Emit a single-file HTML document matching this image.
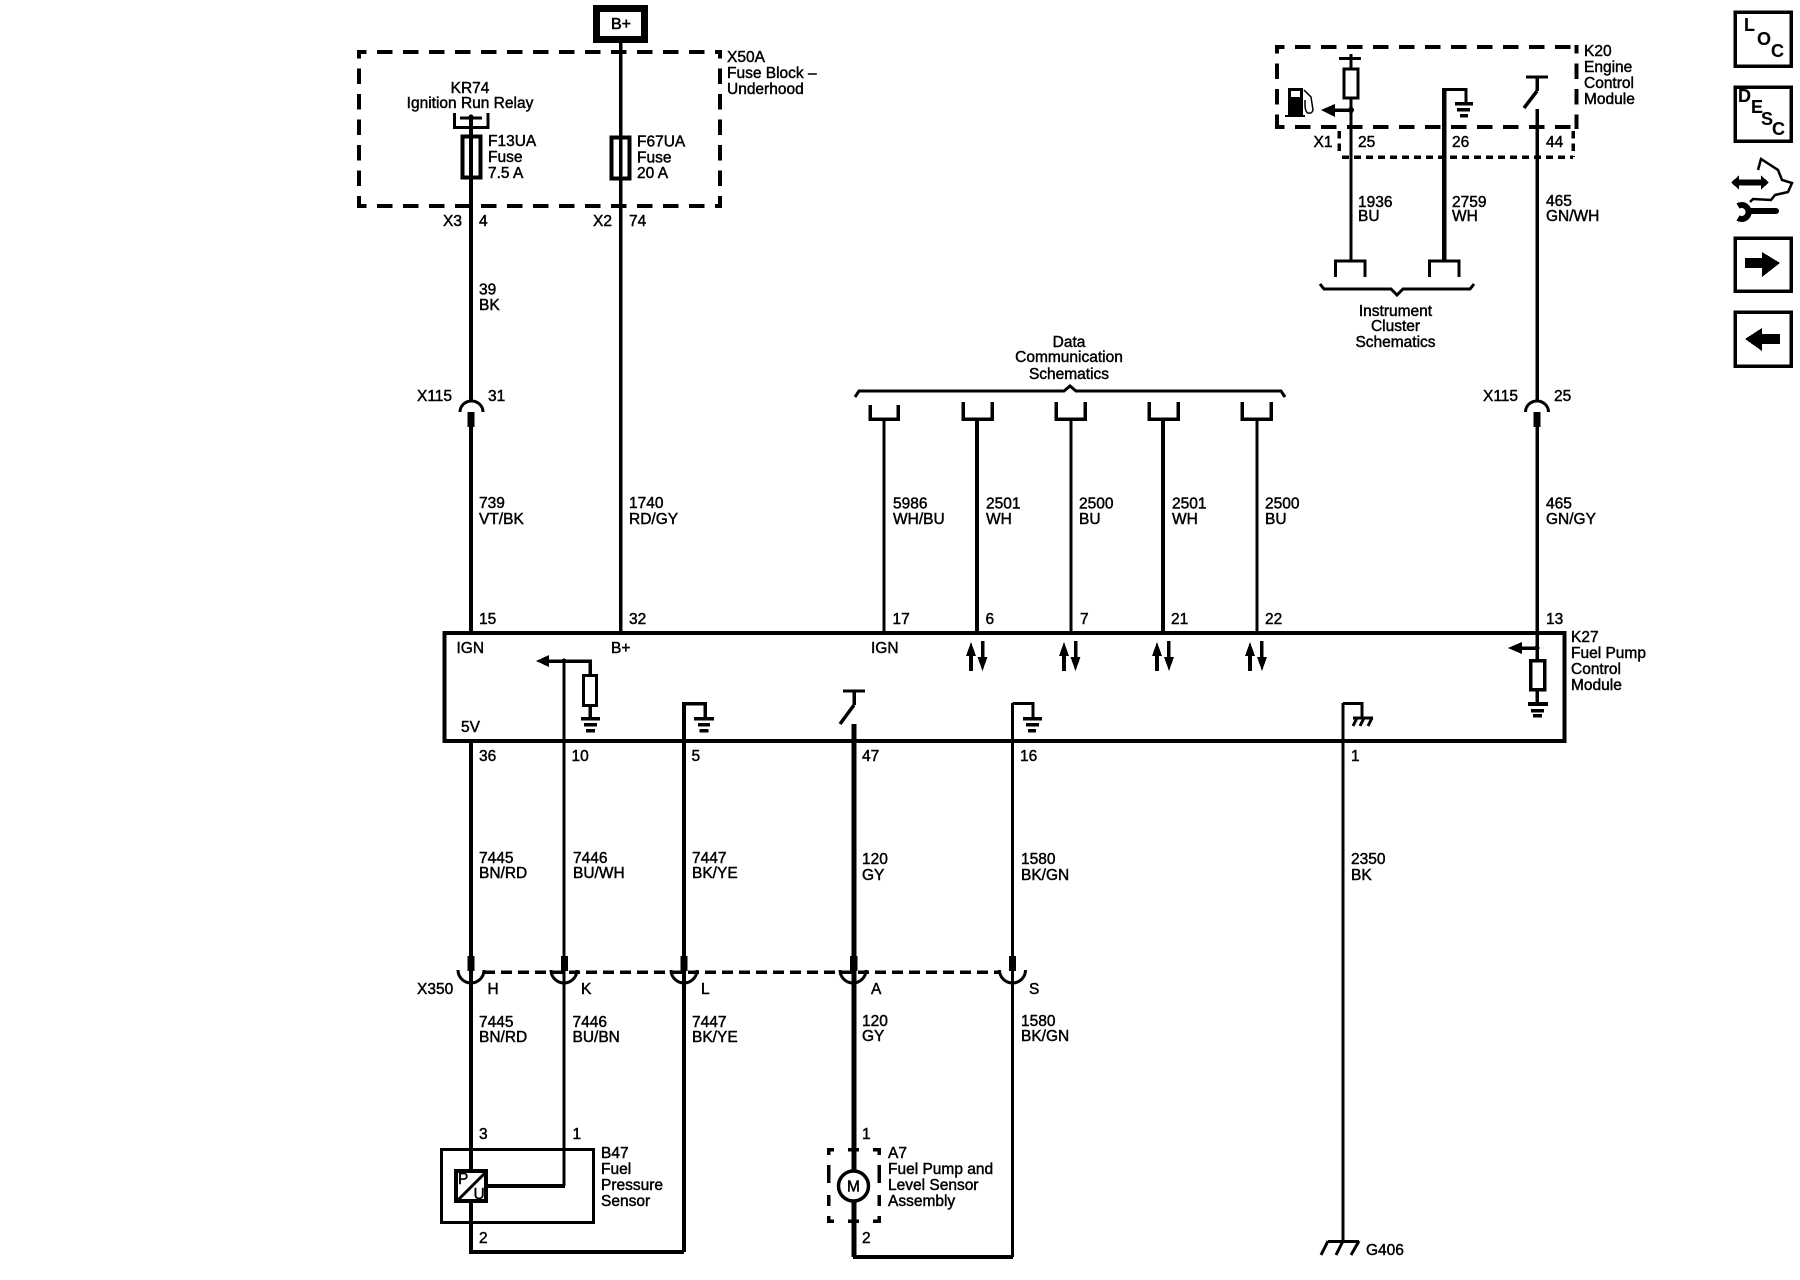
<!DOCTYPE html>
<html><head><meta charset="utf-8"><title>Fuel Pump Control Schematic</title>
<style>
html,body{margin:0;padding:0;background:#fff}
svg{display:block;shape-rendering:crispEdges}
text{font-family:"Liberation Sans",Arial,sans-serif;font-size:15.5px;fill:#000;stroke:#000;stroke-width:.45px}
.m{text-anchor:middle}
.b{font-weight:bold;font-size:18px;stroke-width:.1px}
.w{stroke:#000;fill:none}
.c{stroke:#000;fill:none;shape-rendering:geometricPrecision}
</style></head><body>
<svg width="1800" height="1280" viewBox="0 0 1800 1280" xmlns="http://www.w3.org/2000/svg">
<rect width="1800" height="1280" fill="#fff"/>

<!-- B+ and X50A -->
<rect x="596.500" y="8.500" width="48" height="31" fill="none" stroke="#000" stroke-width="7"/>
<text x="611" y="29" style="font-size:16px;stroke-width:.6px">B+</text>
<g class="w" stroke-width="4">
<path d="M359 52H720" stroke-dasharray="15.500 10.500" stroke-dashoffset="8"/>
<path d="M359 206H720" stroke-dasharray="15.500 10.500" stroke-dashoffset="8"/>
<path d="M359 50V208" stroke-dasharray="15.500 10" stroke-dashoffset="7"/>
<path d="M720 50V208" stroke-dasharray="15.500 10" stroke-dashoffset="7"/>
</g>
<text x="727" y="62">X50A</text><text x="727" y="78">Fuse Block –</text><text x="727" y="94">Underhood</text>
<text class="m" x="470" y="93">KR74</text><text class="m" x="470" y="108">Ignition Run Relay</text>
<path class="w" stroke-width="3" d="M454.500 113V127.500H488V113M460 118H482"/>
<circle cx="471" cy="117" r="2.500" fill="#000"/>
<rect x="462.500" y="136.500" width="18" height="41" fill="none" stroke="#000" stroke-width="4"/>
<rect x="611.500" y="137.500" width="18" height="41" fill="none" stroke="#000" stroke-width="4"/>
<text x="488" y="146">F13UA</text><text x="488" y="162">Fuse</text><text x="488" y="178">7.5 A</text>
<text x="637" y="146.500">F67UA</text><text x="637" y="162.500">Fuse</text><text x="637" y="178">20 A</text>
<text x="443" y="226">X3</text><text x="479" y="226">4</text><text x="593" y="226">X2</text><text x="629" y="226">74</text>
<text x="479" y="294.500">39</text><text x="479" y="310">BK</text>

<!-- main wires upper -->
<g class="w">
<path stroke-width="4" d="M471 118V401"/>
<path stroke-width="4" d="M471 412V633"/>
<path stroke-width="3.500" d="M620.500 43V633"/>
<path stroke-width="3" d="M884 419V633"/>
<path stroke-width="4" d="M977 419V633"/>
<path stroke-width="3" d="M1071 419V633"/>
<path stroke-width="4" d="M1163 419V633"/>
<path stroke-width="3" d="M1257 419V633"/>
<path stroke-width="3.500" d="M1537 109V401M1537 412V662"/>
</g>
<rect x="467.500" y="412" width="7" height="15" fill="#000"/>
<rect x="1533.500" y="412" width="7" height="15" fill="#000"/>
<path class="c" stroke-width="3" d="M460 412A11.500 11 0 0 1 483 412"/>
<path class="c" stroke-width="3" d="M1525.500 412A11.500 11 0 0 1 1548.500 412"/>
<text x="417" y="401">X115</text><text x="488" y="401">31</text>
<text x="1483" y="401">X115</text><text x="1554" y="401">25</text>
<text x="479" y="508">739</text><text x="479" y="524">VT/BK</text>
<text x="629" y="508">1740</text><text x="629" y="524">RD/GY</text>
<text x="893" y="508.500">5986</text><text x="893" y="524">WH/BU</text>
<text x="986" y="508.500">2501</text><text x="986" y="524">WH</text>
<text x="1079" y="508.500">2500</text><text x="1079" y="524">BU</text>
<text x="1172" y="508.500">2501</text><text x="1172" y="524">WH</text>
<text x="1265" y="508.500">2500</text><text x="1265" y="524">BU</text>
<text x="1546" y="508.500">465</text><text x="1546" y="524">GN/GY</text>

<!-- Data communication -->
<text class="m" x="1069" y="347">Data</text><text class="m" x="1069" y="362">Communication</text><text class="m" x="1069" y="379">Schematics</text>
<path class="c" stroke-width="3" d="M855 397L859 391H1064L1070 386L1076 391H1281L1285 397"/>
<g class="w" stroke-width="3.500">
<path d="M870 405V419H898V405"/>
<path d="M963 402V419H992V402"/>
<path d="M1056 402V419H1085V402"/>
<path d="M1149 402V419H1178V402"/>
<path d="M1242 402V419H1271V402"/>
</g>

<!-- K20 -->
<g class="w" stroke-width="4">
<path d="M1277 47H1577" stroke-dasharray="15.500 10.500" stroke-dashoffset="8"/>
<path d="M1277 127H1577" stroke-dasharray="15.500 10.500" stroke-dashoffset="8"/>
<path d="M1277 45V129" stroke-dasharray="15.500 10" stroke-dashoffset="7"/>
<path d="M1576.500 45V129" stroke-dasharray="15.500 10" stroke-dashoffset="7"/>
</g>
<g class="w" stroke-width="3.500">
<path d="M1342 157H1573" stroke-dasharray="7 5"/>
<path d="M1339 131V155" stroke-dasharray="7.500 5"/>
<path d="M1573 131V157" stroke-dasharray="7.500 5"/>
</g>
<text x="1584" y="56">K20</text><text x="1584" y="72">Engine</text><text x="1584" y="88">Control</text><text x="1584" y="104">Module</text>
<path class="w" stroke-width="3" d="M1351 54V68M1351 98V261M1339 58.500H1361"/>
<rect x="1344" y="69" width="14" height="29" fill="none" stroke="#000" stroke-width="3"/>
<circle cx="1351" cy="110" r="3" fill="#000"/>
<path class="w" stroke-width="3.500" d="M1332 110H1351"/>
<polygon points="1321,110 1335,104 1335,117" fill="#000"/>
<!-- fuel pump icon -->
<rect x="1288" y="88" width="15" height="29" fill="#000"/>
<rect x="1291" y="91" width="9" height="6" fill="#fff"/>
<rect x="1285" y="115" width="20" height="2" fill="#000"/>
<path class="c" stroke-width="1.500" d="M1304 90L1311 97L1313 110Q1312 114 1308 113Q1305 112 1305 104V100"/>
<!-- 2759 -->
<path class="w" stroke-width="4.500" d="M1444 261V89"/>
<path class="w" stroke-width="3" d="M1442 89.500H1466V103"/>
<rect x="1455" y="102" width="18" height="3.500" fill="#000"/>
<rect x="1457" y="108" width="13" height="3.500" fill="#000"/>
<rect x="1460" y="114" width="8" height="3.500" fill="#000"/>
<!-- switch -->
<path class="w" stroke-width="3" d="M1526 77H1548"/>
<path class="w" stroke-width="3.500" d="M1537 76V91"/>
<path class="c" stroke-width="3.500" d="M1537 91L1524 108"/>
<text x="1313.500" y="147">X1</text><text x="1358" y="147">25</text><text x="1452" y="147">26</text><text x="1546" y="147">44</text>
<text x="1358" y="207">1936</text><text x="1358" y="221">BU</text>
<text x="1452" y="207">2759</text><text x="1452" y="221">WH</text>
<text x="1546" y="206">465</text><text x="1546" y="221">GN/WH</text>
<path class="w" stroke-width="3" d="M1335.500 277V261H1365V277"/>
<path class="w" stroke-width="3" d="M1429.500 277V261H1459V277"/>
<path class="c" stroke-width="3" d="M1320 284L1324 289H1391L1397 295L1403 289H1470L1474 284"/>
<text class="m" x="1395.500" y="316">Instrument</text><text class="m" x="1395.500" y="331">Cluster</text><text class="m" x="1395.500" y="347">Schematics</text>

<!-- K27 module -->
<rect x="444.500" y="633" width="1120" height="108" fill="none" stroke="#000" stroke-width="4"/>
<text x="479" y="624">15</text><text x="629" y="624">32</text><text x="892.500" y="624">17</text><text x="985.500" y="624">6</text>
<text x="1080" y="624">7</text><text x="1171" y="624">21</text><text x="1265" y="624">22</text><text x="1546" y="624">13</text>
<text x="1571" y="642">K27</text><text x="1571" y="658">Fuel Pump</text><text x="1571" y="674">Control</text><text x="1571" y="690">Module</text>
<text x="456.500" y="653">IGN</text><text x="611" y="653">B+</text><text x="871" y="653">IGN</text><text x="461" y="732">5V</text>
<text x="479" y="761">36</text><text x="571.500" y="761">10</text><text x="691.500" y="761">5</text><text x="862" y="761">47</text><text x="1020" y="761">16</text><text x="1351" y="761">1</text>

<!-- arrows pairs -->
<g fill="#000">
<polygon points="971,642 966,656 976,656"/><rect x="969" y="655" width="4" height="16"/>
<polygon points="982.500,671 977.500,657 987.500,657"/><rect x="981" y="641" width="3.500" height="17"/>
<polygon points="1064,642 1059,656 1069,656"/><rect x="1062" y="655" width="4" height="16"/>
<polygon points="1075.500,671 1070.500,657 1080.500,657"/><rect x="1074" y="641" width="3.500" height="17"/>
<polygon points="1157,642 1152,656 1162,656"/><rect x="1155" y="655" width="4" height="16"/>
<polygon points="1169,671 1164,657 1174,657"/><rect x="1167" y="641" width="3.500" height="17"/>
<polygon points="1250,642 1245,656 1255,656"/><rect x="1248" y="655" width="4" height="16"/>
<polygon points="1262,671 1257,657 1267,657"/><rect x="1260" y="641" width="3.500" height="17"/>
</g>

<!-- 5V ref arrow + resistor -->
<polygon points="536,661 549,655 549,667" fill="#000"/>
<circle cx="564" cy="661" r="2.500" fill="#000"/>
<path class="w" stroke-width="3.500" d="M546 661H590V676M590 705V719"/>
<rect x="583.500" y="675.500" width="13" height="30" fill="none" stroke="#000" stroke-width="3"/>
<rect x="581" y="717" width="19" height="3.500" fill="#000"/>
<rect x="584" y="723" width="13" height="3.500" fill="#000"/>
<rect x="586" y="729" width="9" height="3.500" fill="#000"/>
<!-- ground pin 5 -->
<path class="w" stroke-width="3.500" d="M684 703.500H705V719"/>
<rect x="694" y="717" width="20" height="3.500" fill="#000"/>
<rect x="698" y="723" width="12" height="3.500" fill="#000"/>
<rect x="699.500" y="729" width="9" height="3.500" fill="#000"/>
<!-- switch 47 -->
<path class="w" stroke-width="3" d="M843 691H865"/>
<path class="w" stroke-width="3.500" d="M854 690V705"/>
<path class="c" stroke-width="3.500" d="M854 705L840 724"/>
<!-- ground pin 16 -->
<path class="w" stroke-width="3" d="M1012.500 703.500H1033V718"/>
<rect x="1023" y="717" width="19" height="3.500" fill="#000"/>
<rect x="1026" y="723" width="13" height="3.500" fill="#000"/>
<rect x="1028" y="729" width="8" height="3.500" fill="#000"/>
<!-- chassis pin 1 -->
<path class="w" stroke-width="3" d="M1343 703.500H1362V717"/>
<g class="c" stroke-width="3"><path d="M1353 718H1373M1357 718L1353 726M1364 718L1360 726M1372 718L1368 726"/></g>
<!-- pin 13 -->
<circle cx="1537" cy="648" r="2.500" fill="#000"/>
<polygon points="1508,648 1522,642 1522,654" fill="#000"/>
<path class="w" stroke-width="3.500" d="M1520 648H1537M1537 690V704"/>
<rect x="1530.500" y="660.500" width="14" height="29" fill="none" stroke="#000" stroke-width="3.500"/>
<rect x="1528" y="702" width="20" height="4" fill="#000"/>
<rect x="1531" y="709" width="13" height="3.500" fill="#000"/>
<rect x="1533" y="714" width="9" height="3.500" fill="#000"/>

<!-- lower wires -->
<g class="w">
<path stroke-width="4" d="M471 741V1252H684"/>
<path stroke-width="3" d="M564 661V1186"/>
<path stroke-width="4" d="M684 702V1252"/>
<path stroke-width="5" d="M854 724V1257"/>
<path stroke-width="3" d="M1012.500 703V1257"/>
<path stroke-width="4" d="M853 1257H1013"/>
<path stroke-width="3" d="M1343 703V1241"/>
</g>
<text x="479" y="863">7445</text><text x="479" y="878">BN/RD</text>
<text x="573" y="863">7446</text><text x="573" y="878">BU/WH</text>
<text x="692" y="863">7447</text><text x="692" y="878">BK/YE</text>
<text x="862" y="864">120</text><text x="862" y="880">GY</text>
<text x="1021" y="864">1580</text><text x="1021" y="880">BK/GN</text>
<text x="1351" y="864">2350</text><text x="1351" y="880">BK</text>

<!-- X350 -->
<path class="w" stroke-width="3.500" d="M484 972H1000" stroke-dasharray="11 6"/>
<g fill="#000">
<rect x="467.500" y="956" width="7" height="15"/>
<rect x="561" y="956" width="7" height="15"/>
<rect x="680.500" y="956" width="7" height="15"/>
<rect x="850" y="956" width="7.500" height="15"/>
<rect x="1009" y="956" width="7" height="15"/>
</g>
<g class="c" stroke-width="3">
<path d="M458 970A13 13 0 0 0 484 970"/>
<path d="M551 970A13 13 0 0 0 577 970"/>
<path d="M671 970A13 13 0 0 0 697 970"/>
<path d="M840 970A13 13 0 0 0 866 970"/>
<path d="M999.500 970A13 13 0 0 0 1025.500 970"/>
</g>
<text x="417" y="994">X350</text><text x="487.500" y="994">H</text><text x="581" y="994">K</text><text x="701" y="994">L</text><text x="871" y="994">A</text><text x="1029" y="994">S</text>
<text x="479" y="1027">7445</text><text x="479" y="1042">BN/RD</text>
<text x="572.500" y="1027">7446</text><text x="572.500" y="1042">BU/BN</text>
<text x="692" y="1027">7447</text><text x="692" y="1042">BK/YE</text>
<text x="862" y="1026">120</text><text x="862" y="1041">GY</text>
<text x="1021" y="1026">1580</text><text x="1021" y="1041">BK/GN</text>
<text x="479" y="1139">3</text><text x="572.500" y="1139">1</text><text x="862" y="1139">1</text>

<!-- B47 -->
<rect x="441.500" y="1149.500" width="152" height="73" fill="none" stroke="#000" stroke-width="3"/>
<rect x="456" y="1171" width="30" height="30" fill="#fff" stroke="#000" stroke-width="4"/>
<path class="w" stroke-width="4" d="M486 1186H565"/>
<path class="c" stroke-width="3" d="M486 1172L458 1200"/>
<text x="458" y="1184" style="font-size:15.5px">P</text><text x="473.500" y="1199" style="font-size:15.5px">U</text>
<text x="601" y="1158">B47</text><text x="601" y="1174">Fuel</text><text x="601" y="1190">Pressure</text><text x="601" y="1206">Sensor</text>
<text x="479" y="1243">2</text><text x="862" y="1243">2</text>

<!-- A7 -->
<g fill="#000">
<path d="M827 1148h7v3.500h-3.500v3.500h-3.500zM848 1148h11v3.500h-11zM873 1148h8v7h-3.500v-3.500h-4.500z"/>
<path d="M827 1216h3.500v3.500h3.500v3.500h-7zM848 1219.500h11v3.500h-11zM877.500 1216h3.500v7h-8v-3.500h4.500z"/>
<rect x="827" y="1165" width="3.500" height="18"/><rect x="827" y="1195" width="3.500" height="11"/>
<rect x="877.500" y="1165" width="3.500" height="18"/><rect x="877.500" y="1195" width="3.500" height="11"/>
</g>
<circle class="c" cx="853.500" cy="1186" r="15" style="fill:#fff" stroke-width="3.500"/>
<text class="m" x="853.500" y="1191.500" style="font-size:15.500px">M</text>
<text x="888" y="1158">A7</text><text x="888" y="1174">Fuel Pump and</text><text x="888" y="1190">Level Sensor</text><text x="888" y="1206">Assembly</text>

<!-- G406 -->
<g class="c" stroke-width="3"><path d="M1328 1241.500H1359M1328 1241L1321 1255M1343 1241L1336 1255M1359 1241L1351 1255"/></g>
<text x="1366" y="1255">G406</text>

<!-- right icons -->
<g fill="none" stroke="#000" stroke-width="3.500">
<rect x="1735" y="12" width="56" height="54"/>
<rect x="1735" y="87" width="56" height="54"/>
<rect x="1735" y="238" width="56" height="53"/>
<rect x="1735" y="312" width="56" height="54"/>
</g>
<text class="b" x="1744" y="31">L</text><text class="b" x="1757" y="45">O</text><text class="b" x="1771" y="57">C</text>
<text class="b" x="1738" y="102">D</text><text class="b" x="1751" y="113">E</text><text class="b" x="1761" y="125">S</text><text class="b" x="1772" y="135">C</text>
<rect x="1738" y="179.500" width="24" height="6" fill="#000"/>
<polygon points="1731,182.500 1739,175.500 1739,189.500" fill="#000"/>
<polygon points="1769,182.500 1761,175.500 1761,189.500" fill="#000"/>
<path class="c" stroke-width="2.500" d="M1758 170L1761 159L1778 170L1782 180L1792 183L1788 192L1775 195L1771 200L1753 199L1750 202"/>
<path class="c" stroke-width="6" stroke-linecap="round" d="M1750 211H1776"/>
<path class="c" stroke-width="6" d="M1738 206A7 7 0 1 1 1738 218"/>
<polygon points="1745,258 1762,258 1762,252 1780,263 1762,277 1762,268 1745,268" fill="#000"/>
<polygon points="1745,339 1762,328 1762,334 1780,334 1780,344 1762,344 1762,351" fill="#000"/>
</svg>
</body></html>
